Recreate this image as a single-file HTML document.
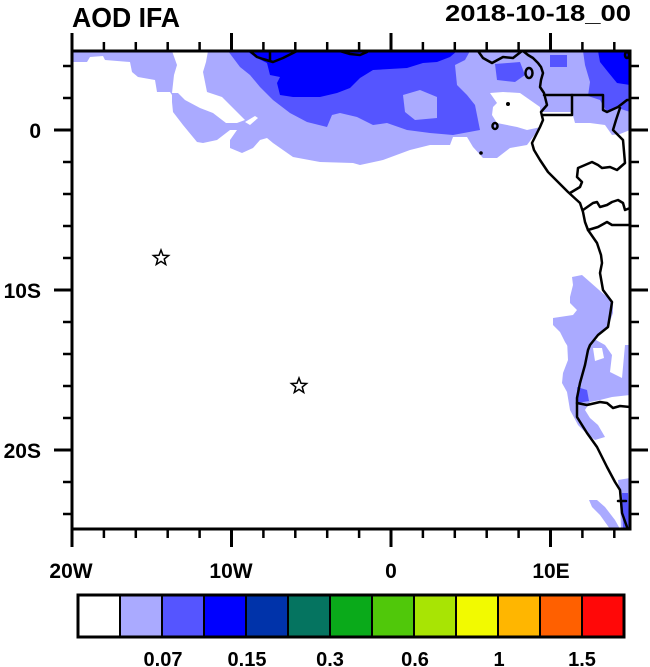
<!DOCTYPE html>
<html>
<head>
<meta charset="utf-8">
<style>
html,body{margin:0;padding:0;background:#fff;}
svg{display:block;}
text{font-family:"Liberation Sans",Arial,sans-serif;font-weight:bold;fill:#000;}
</style>
</head>
<body>
<svg width="650" height="667" viewBox="0 0 650 667" xmlns="http://www.w3.org/2000/svg">
<defs>
<clipPath id="plot"><rect x="72" y="51" width="558" height="478"/></clipPath>
</defs>
<rect x="0" y="0" width="650" height="667" fill="#fff"/>

<g clip-path="url(#plot)">
<!-- north lavender -->
<path fill="#AAAAFF" d="M72,51 L630,51 L630,130 L620,134 L612,135 L605,125 L590,123 L575,123 L572,112 L545,112 L540,112 L538,130 L533,137 L527,145 L510,148 L497,158 L483,158 L473,147 L467,137 L453,137 L450,145 L430,145 L410,150 L383,160 L360,165 L353,163 L320,162 L293,157 L273,143 L267,138 L260,140 L253,148 L242,153 L230,148 L230,140 L237,130 L230,130 L217,140 L203,143 L197,142 L183,125 L173,112 L172,102 L172,95 L170,92 L157,92 L155,80 L138,77 L132,72 L130,62 L105,60 L103,56 L90,57 L87,62 L72,62 Z"/>
<!-- white tongue -->
<path fill="#fff" d="M172,51 L208,51 L206,62 L203,72 L207,92 L222,97 L235,110 L245,120 L237,123 L226,123 L213,113 L200,108 L185,100 L178,93 L172,93 L174,75 L177,65 Z"/>
<path fill="#fff" d="M245,122 L255,116 L258,118 L250,125 Z"/>
<!-- offshore white patch -->
<path fill="#fff" d="M490,93 L503,92 L520,93 L530,100 L540,107 L541,127 L527,130 L517,127 L497,123 L492,115 L493,107 L497,103 Z"/>
<!-- mid-blue north -->
<path fill="#5555FF" d="M228,51 L470,51 L465,60 L455,65 L457,85 L467,95 L475,105 L480,130 L453,135 L430,133 L407,130 L387,123 L373,125 L357,117 L340,113 L332,115 L327,127 L307,122 L290,113 L273,100 L260,87 L250,75 L240,67 Z"/>
<path fill="#AAAAFF" d="M403,95 L420,90 L437,97 L437,118 L415,120 L405,112 Z"/>
<path fill="#5555FF" d="M495,64 L520,62 L525,75 L515,82 L497,80 Z"/>
<path fill="#5555FF" d="M550,55 L567,55 L567,67 L550,67 Z"/>
<path fill="#5555FF" d="M583,51 L630,51 L630,112 L618,108 L607,112 L600,100 L588,96 L590,82 L585,65 Z"/>
<!-- blue north -->
<path fill="#0000FF" d="M247,51 L457,51 L450,57 L437,62 L423,63 L407,68 L373,70 L360,78 L350,88 L337,93 L320,97 L293,97 L280,95 L277,83 L280,77 L270,75 L267,63 L255,57 Z"/>
<path fill="#0000FF" d="M598,51 L630,51 L630,85 L617,83 L608,72 L600,62 Z"/>

<!-- south lavender -->
<path fill="#AAAAFF" d="M572,277 L582,275 L590,282 L607,297 L613,302 L613,313 L608,327 L598,335 L590,347 L580,350 L570,350 L565,342 L560,332 L553,325 L553,318 L573,315 L577,310 L570,303 L570,297 L573,285 Z"/>
<path fill="#AAAAFF" d="M567,340 L596,340 L605,345 L612,355 L610,372 L622,378 L625,345 L630,345 L630,395 L612,397 L600,400 L590,402 L585,410 L590,418 L598,425 L605,437 L595,440 L585,432 L578,425 L570,410 L567,392 L562,383 L563,373 L568,360 Z"/>
<path fill="#fff" d="M593,348 L602,348 L604,358 L595,361 Z"/>
<path fill="#5555FF" d="M577,387 L587,390 L589,401 L578,403 Z"/>
<path fill="#AAAAFF" d="M589,500 L597,500 L605,507 L615,520 L620,529 L610,529 L600,515 L592,507 Z"/>
<path fill="#AAAAFF" d="M618,480 L630,478 L630,529 L621,529 L620,500 Z"/>
<path fill="#5555FF" d="M622,493 L628,493 L629,529 L623,529 Z"/>

<!-- coastlines / borders -->
<g fill="none" stroke="#000" stroke-width="2.5" stroke-linejoin="round" stroke-linecap="round">
<path d="M250,51 L257,57 L263,59 L273,62 L283,58 L293,53 L297,51"/>
<path d="M270,51 L270,60"/>
<path d="M340,51 L350,54 L360,55 L367,52"/>
<path d="M478,51 L483,58 L492,63 L503,57 L513,58 L522,51"/>
<path d="M523,51 L528,55 L533,58 L538,63 L541,67 L543,73 L541,80 L540,87 L544,93 L545,97 L547,105 L541,112 L543,120 L540,127 L535,137 L532,143 L534,150 L540,160 L548,172 L558,182 L568,192 L580,203 L583,212 L585,222 L588,230 L597,243 L601,255 L602,263 L600,273 L603,290 L612,302 L610,315 L608,327 L598,335 L590,345 L588,350 L585,365 L580,383 L577,398 L577,417 L587,433 L597,447 L607,467 L615,482 L620,490 L622,513 L627,527 L628,530"/>
<path d="M544,95 L572,95 L572,115 L543,115"/>
<path d="M572,95 L603,95 L603,110 L607,112 L618,107 L627,100 L630,100"/>
<path d="M620,108 L616,120 L613,130 L623,140 L625,163 L617,170 L610,167 L602,168 L598,165 L592,162 L578,168 L577,177 L582,182 L580,187 L570,193"/>
<path d="M583,210 L593,203 L597,202 L600,207 L607,205 L612,202 L618,200 L623,203 L625,210 L630,208"/>
<path d="M588,230 L598,227 L607,222 L612,225 L627,225 L630,225"/>
<path d="M577,403 L587,405 L600,402 L607,403 L613,408 L620,406 L630,407"/>
<path d="M618,501 L626,501"/>
<ellipse cx="529" cy="73" rx="3.5" ry="5"/>
<ellipse cx="495" cy="126" rx="2.5" ry="3"/>
<ellipse cx="627" cy="55" rx="2" ry="3"/>
</g>
<circle cx="508" cy="104" r="2" fill="#000"/>
<circle cx="481" cy="153" r="1.8" fill="#000"/>
</g>

<!-- stars -->
<g fill="#fff" stroke="#000" stroke-width="1.5" stroke-linejoin="miter">
<polygon transform="translate(161,258)" points="0,-8 2,-2.75 7.61,-2.47 3.23,1.05 4.7,6.47 0,3.4 -4.7,6.47 -3.23,1.05 -7.61,-2.47 -2,-2.75"/>
<polygon transform="translate(299,386)" points="0,-8 2,-2.75 7.61,-2.47 3.23,1.05 4.7,6.47 0,3.4 -4.7,6.47 -3.23,1.05 -7.61,-2.47 -2,-2.75"/>
</g>

<!-- axes frame -->
<rect x="72" y="51" width="558" height="478" fill="none" stroke="#000" stroke-width="3"/>

<!-- ticks -->
<g stroke="#000" stroke-width="2.5">
<!-- top minor -->
<path d="M103.9,51V42 M135.8,51V42 M167.7,51V42 M199.6,51V42 M263.4,51V42 M295.3,51V42 M327.2,51V42 M359.1,51V42 M422.9,51V42 M454.8,51V42 M486.7,51V42 M518.6,51V42 M582.4,51V42 M614.3,51V42"/>
<path stroke-width="3" d="M72,51V33 M231.5,51V33 M391,51V33 M550.5,51V33"/>
<!-- bottom -->
<path d="M103.9,529V538 M135.8,529V538 M167.7,529V538 M199.6,529V538 M263.4,529V538 M295.3,529V538 M327.2,529V538 M359.1,529V538 M422.9,529V538 M454.8,529V538 M486.7,529V538 M518.6,529V538 M582.4,529V538 M614.3,529V538"/>
<path stroke-width="3" d="M72,529V547 M231.5,529V547 M391,529V547 M550.5,529V547"/>
<!-- left -->
<path d="M72,66H63 M72,98H63 M72,162H63 M72,194H63 M72,226H63 M72,258H63 M72,322H63 M72,354H63 M72,386H63 M72,418H63 M72,482H63 M72,514H63"/>
<path stroke-width="3" d="M72,130H54 M72,290H54 M72,450H54"/>
<!-- right -->
<path d="M630,66H639 M630,98H639 M630,162H639 M630,194H639 M630,226H639 M630,258H639 M630,322H639 M630,354H639 M630,386H639 M630,418H639 M630,482H639 M630,514H639"/>
<path stroke-width="3" d="M630,130H648 M630,290H648 M630,450H648"/>
</g>

<!-- tick labels -->
<g font-size="21">
<text x="41" y="138" text-anchor="end">0</text>
<text x="41" y="298" text-anchor="end">10S</text>
<text x="41" y="458" text-anchor="end">20S</text>
<text x="71" y="578" text-anchor="middle">20W</text>
<text x="231" y="578" text-anchor="middle">10W</text>
<text x="391" y="578" text-anchor="middle">0</text>
<text x="551" y="578" text-anchor="middle">10E</text>
</g>

<!-- titles -->
<text x="72" y="27" font-size="28" textLength="108" lengthAdjust="spacingAndGlyphs">AOD IFA</text>
<text x="445" y="21" font-size="23" textLength="186" lengthAdjust="spacingAndGlyphs">2018-10-18_00</text>

<!-- colorbar -->
<g stroke="#000" stroke-width="2">
<rect x="78" y="595" width="42" height="42" fill="#FFFFFF"/>
<rect x="120" y="595" width="42" height="42" fill="#AAAAFF"/>
<rect x="162" y="595" width="42" height="42" fill="#5555FF"/>
<rect x="204" y="595" width="42" height="42" fill="#0000FF"/>
<rect x="246" y="595" width="42" height="42" fill="#0033AA"/>
<rect x="288" y="595" width="42" height="42" fill="#057460"/>
<rect x="330" y="595" width="42" height="42" fill="#0AAA1A"/>
<rect x="372" y="595" width="42" height="42" fill="#50C80A"/>
<rect x="414" y="595" width="42" height="42" fill="#A8E404"/>
<rect x="456" y="595" width="42" height="42" fill="#F2FA00"/>
<rect x="498" y="595" width="42" height="42" fill="#FFB600"/>
<rect x="540" y="595" width="42" height="42" fill="#FF6000"/>
<rect x="582" y="595" width="42" height="42" fill="#FF0808"/>
</g>
<rect x="78" y="595" width="546" height="42" fill="none" stroke="#000" stroke-width="3"/>
<g font-size="20" text-anchor="middle">
<text x="163" y="666">0.07</text>
<text x="247" y="666">0.15</text>
<text x="330" y="666">0.3</text>
<text x="415" y="666">0.6</text>
<text x="499" y="666">1</text>
<text x="582" y="666">1.5</text>
</g>
</svg>
</body>
</html>
